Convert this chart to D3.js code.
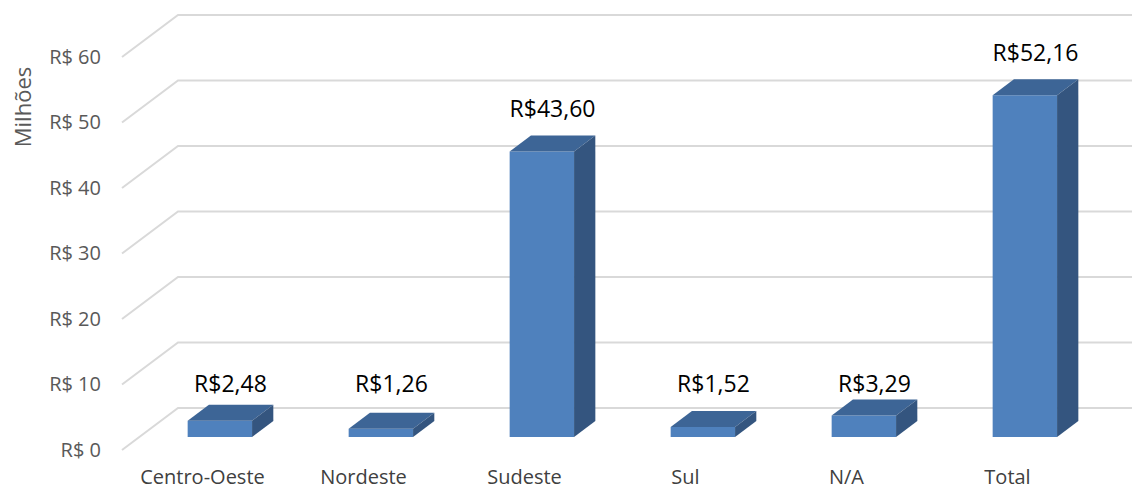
<!DOCTYPE html>
<html>
<head>
<meta charset="utf-8">
<script src="https://cdn.jsdelivr.net/npm/d3@7/dist/d3.min.js"></script>
<style>
  html, body { margin: 0; padding: 0; background: #fff; }
  svg { display: block; font-family: "Open Sans", sans-serif; }
</style>
</head>
<body>
<svg id="chart" width="1132" height="490"></svg>
<script>
// ---- data ----
const categories = ["Centro-Oeste", "Nordeste", "Sudeste", "Sul", "N/A", "Total"];
const values = [2.48, 1.26, 43.60, 1.52, 3.29, 52.16];
const valueLabels = ["R$2,48", "R$1,26", "R$43,60", "R$1,52", "R$3,29", "R$52,16"];
const yTicks = [0, 10, 20, 30, 40, 50, 60];
const yTickLabels = ["R$ 0", "R$ 10", "R$ 20", "R$ 30", "R$ 40", "R$ 50", "R$ 60"];
const axisTitle = "Milhões";

// ---- layout ----
const W = 1132, H = 490;
const depthDX = 56, depthDY = -42;   // floor depth offset (front -> back wall)
const barD0 = 0.31, barD1 = 0.69;    // bar depth range within floor

const svg = d3.select("#chart");

const x = d3.scaleBand().domain(categories).range([122, 1088])
  .paddingInner(0.6).paddingOuter(0.3);
const y = d3.scaleLinear().domain([0, 60]).range([450, 57]);

// projection: category-plane x, value, depth -> screen
const px = (sx, d) => sx + d * depthDX;
const py = (v, d) => y(v) + d * depthDY;

// ---- gridlines (left wall diagonal + back wall) ----
const grid = svg.append("g");
yTicks.forEach(t => {
  grid.append("path")
    .attr("d", d3.line()([
      [px(122, 0), py(t, 0)],
      [px(122, 1), py(t, 1)],
      [W + 20, py(t, 1)]
    ]))
    .attr("fill", "none")
    .attr("stroke", "#d9d9d9")
    .attr("stroke-width", 2);
});

// ---- y axis labels ----
const yAxis = d3.axisLeft(y)
  .tickValues(yTicks)
  .tickFormat((d, i) => yTickLabels[i])
  .tickSize(0)
  .tickPadding(0);
const ya = svg.append("g").attr("transform", "translate(101,0)").call(yAxis);
ya.select(".domain").remove();
ya.selectAll("text")
  .attr("font-family", "Open Sans, sans-serif")
  .attr("font-size", 20)
  .attr("fill", "#595959");

svg.append("text")
  .attr("transform", "translate(31,107) rotate(-90)")
  .attr("text-anchor", "middle")
  .attr("font-size", 22)
  .attr("fill", "#595959")
  .text(axisTitle);

// ---- category labels ----
svg.append("g").selectAll("text")
  .data(categories)
  .join("text")
  .attr("x", d => x(d) + x.bandwidth() / 2)
  .attr("y", 484)
  .attr("text-anchor", "middle")
  .attr("font-size", 20)
  .attr("fill", "#404040")
  .text(d => d);

// ---- bars ----
const data = categories.map((c, i) => ({ cat: c, value: values[i], label: valueLabels[i] }));
const bars = svg.append("g").selectAll("g").data(data).join("g");

const poly = pts => "M" + pts.map(p => p.join(",")).join("L") + "Z";

bars.append("path") // front
  .attr("d", d => {
    const xl = x(d.cat), xr = x(d.cat) + x.bandwidth();
    return poly([
      [px(xl, barD0), py(0, barD0)],
      [px(xr, barD0), py(0, barD0)],
      [px(xr, barD0), py(d.value, barD0)],
      [px(xl, barD0), py(d.value, barD0)]
    ]);
  })
  .attr("fill", "#4f81bd");

bars.append("path") // top
  .attr("d", d => {
    const xl = x(d.cat), xr = x(d.cat) + x.bandwidth();
    return poly([
      [px(xl, barD0), py(d.value, barD0)],
      [px(xr, barD0), py(d.value, barD0)],
      [px(xr, barD1), py(d.value, barD1)],
      [px(xl, barD1), py(d.value, barD1)]
    ]);
  })
  .attr("fill", "#3d6596");

bars.append("path") // side
  .attr("d", d => {
    const xr = x(d.cat) + x.bandwidth();
    return poly([
      [px(xr, barD0), py(0, barD0)],
      [px(xr, barD0), py(d.value, barD0)],
      [px(xr, barD1), py(d.value, barD1)],
      [px(xr, barD1), py(0, barD1)]
    ]);
  })
  .attr("fill", "#34557f");

// ---- value labels ----
const midD = (barD0 + barD1) / 2;
bars.append("text")
  .attr("x", d => px(x(d.cat) + x.bandwidth() / 2, midD))
  .attr("y", d => d.value < 10 ? py(0, barD1) - 29 : py(d.value, barD1) - 18)
  .attr("text-anchor", "middle")
  .attr("font-size", 23)
  .attr("fill", "#000")
  .text(d => d.label);
</script>
</body>
</html>
